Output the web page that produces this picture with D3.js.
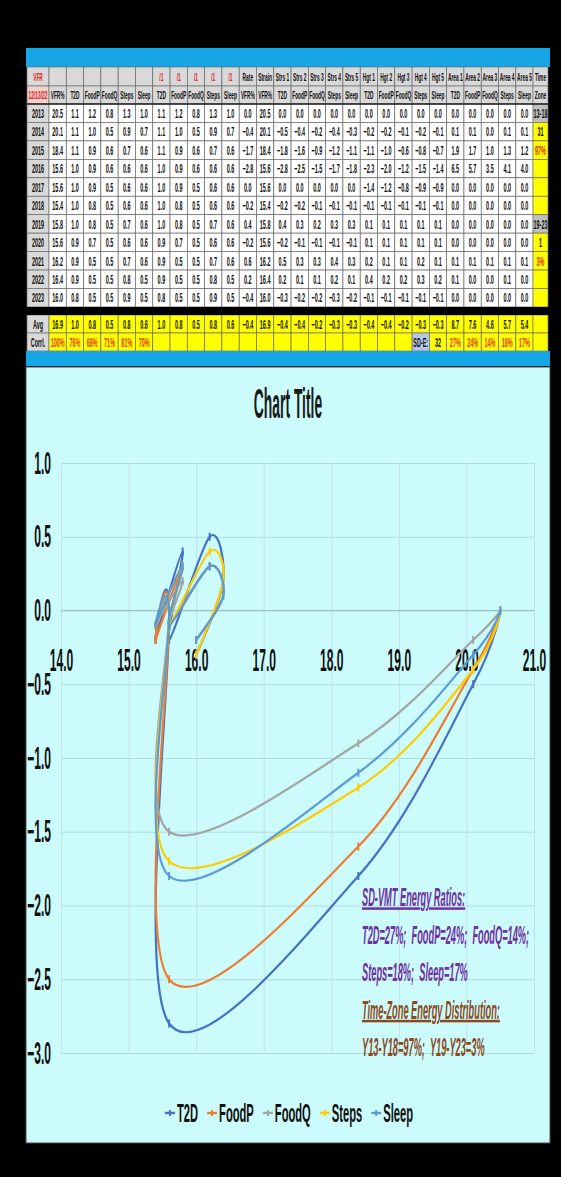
<!DOCTYPE html>
<html>
<head>
<meta charset="utf-8">
<script src="https://cdn.jsdelivr.net/npm/d3@7"></script>
<style>
  body { margin: 0; background: #000; }
  svg { display: block; }
</style>
</head>
<body>
<svg id="chart" width="561" height="1177"></svg>
<script>
// ---- data ----
const years = [2013, 2014, 2015, 2016, 2017, 2018, 2019, 2020, 2021, 2022, 2023];
const vfrPct = [20.5, 20.1, 18.4, 15.6, 15.6, 15.4, 15.8, 15.6, 16.2, 16.4, 16.0];
const seriesNames = ["T2D", "FoodP", "FoodQ", "Steps", "Sleep"];
const ratios = [
  [1.1, 1.2, 0.8, 1.3, 1.0], [1.1, 1.0, 0.5, 0.9, 0.7], [1.1, 0.9, 0.6, 0.7, 0.6],
  [1.0, 0.9, 0.6, 0.6, 0.6], [1.0, 0.9, 0.5, 0.6, 0.6], [1.0, 0.8, 0.5, 0.6, 0.6],
  [1.0, 0.8, 0.5, 0.7, 0.6], [0.9, 0.7, 0.5, 0.6, 0.6], [0.9, 0.5, 0.5, 0.7, 0.6],
  [0.9, 0.5, 0.5, 0.8, 0.5], [0.8, 0.5, 0.5, 0.9, 0.5]
];
const rate = [0.0, -0.4, -1.7, -2.8, 0.0, -0.2, 0.4, -0.2, 0.6, 0.2, -0.4];
const strain = [20.5, 20.1, 18.4, 15.6, 15.6, 15.4, 15.8, 15.6, 16.2, 16.4, 16.0];
const strs = [
  [0.0, 0.0, 0.0, 0.0, 0.0], [-0.5, -0.4, -0.2, -0.4, -0.3], [-1.8, -1.6, -0.9, -1.2, -1.1],
  [-2.8, -2.5, -1.5, -1.7, -1.8], [0.0, 0.0, 0.0, 0.0, 0.0], [-0.2, -0.2, -0.1, -0.1, -0.1],
  [0.4, 0.3, 0.2, 0.3, 0.3], [-0.2, -0.1, -0.1, -0.1, -0.1], [0.5, 0.3, 0.3, 0.4, 0.3],
  [0.2, 0.1, 0.1, 0.2, 0.1], [-0.3, -0.2, -0.2, -0.3, -0.2]
];
const hgt = [
  [0.0, 0.0, 0.0, 0.0, 0.0], [-0.2, -0.2, -0.1, -0.2, -0.1], [-1.1, -1.0, -0.6, -0.8, -0.7],
  [-2.3, -2.0, -1.2, -1.5, -1.4], [-1.4, -1.2, -0.8, -0.9, -0.9], [-0.1, -0.1, -0.1, -0.1, -0.1],
  [0.1, 0.1, 0.1, 0.1, 0.1], [0.1, 0.1, 0.1, 0.1, 0.1], [0.2, 0.1, 0.1, 0.2, 0.1],
  [0.4, 0.2, 0.2, 0.3, 0.2], [-0.1, -0.1, -0.1, -0.1, -0.1]
];
const area = [
  [0.0, 0.0, 0.0, 0.0, 0.0], [0.1, 0.1, 0.0, 0.1, 0.1], [1.9, 1.7, 1.0, 1.3, 1.2],
  [6.5, 5.7, 3.5, 4.1, 4.0], [0.0, 0.0, 0.0, 0.0, 0.0], [0.0, 0.0, 0.0, 0.0, 0.0],
  [0.0, 0.0, 0.0, 0.0, 0.0], [0.0, 0.0, 0.0, 0.0, 0.0], [0.1, 0.1, 0.1, 0.1, 0.1],
  [0.1, 0.0, 0.0, 0.1, 0.0], [0.0, 0.0, 0.0, 0.0, 0.0]
];
const timeZone = ["13-18", "31", "97%", "", "", "", "19-23", "1", "3%", "", ""];
const avgRow = [16.9, 1.0, 0.8, 0.5, 0.8, 0.6, 1.0, 0.8, 0.5, 0.8, 0.6, -0.4, 16.9,
  -0.4, -0.4, -0.2, -0.3, -0.3, -0.4, -0.4, -0.2, -0.3, -0.3, 8.7, 7.6, 4.6, 5.7, 5.4];
const corrl = ["100%", "76%", "68%", "71%", "81%", "70%"];
const sdE = "32";
const energyPct = ["27%", "24%", "14%", "18%", "17%"];
const xTicks = [14, 15, 16, 17, 18, 19, 20, 21];
const yTicks = [1.0, 0.5, 0.0, -0.5, -1.0, -1.5, -2.0, -2.5, -3.0];
const notes = [
  "SD-VMT Energy Ratios:",
  "T2D=27%;  FoodP=24%;  FoodQ=14%;",
  "Steps=18%;  Sleep=17%",
  "Time-Zone Energy Distribution:",
  "Y13-Y18=97%;  Y19-Y23=3%"
];

const colors = ["#4472c4", "#ed7d31", "#a5a5a5", "#ffcc00", "#5b9bd5"];
const FONT = "'Liberation Sans', Arial, sans-serif";
const fmt = d3.format(".1f");

const svg = d3.select("#chart");

// squeezed bold text, like the narrow spreadsheet font
function sq(g, x, y, str, o) {
  return g.append("text")
    .attr("transform", `translate(${x},${y}) scale(${o.sx},1)`)
    .attr("text-anchor", o.anchor || "middle")
    .attr("font-family", FONT)
    .attr("font-weight", "bold")
    .attr("font-style", o.italic ? "italic" : null)
    .attr("font-size", o.size)
    .attr("fill", o.fill || "#111")
    .style("white-space", "pre")
    .text(str);
}

// ---- top blue band ----
svg.append("rect").attr("x", 26).attr("y", 48).attr("width", 524).attr("height", 19).attr("fill", "#16a5e5");

// ---- table ----
const table = svg.append("g");
const cols = d3.range(30).map(c => c === 0 ? { x: 27, w: 22 }
  : c === 29 ? { x: 533, w: 15 } : { x: 49 + (c - 1) * 17.29, w: 17.29 });

const cells = [];
function addRow(y, h, texts, style) {
  texts.forEach((t, c) => cells.push(Object.assign({ c, y, h, t }, style(c, t))));
}

const blockHead = (a) => d3.range(1, 6).map(i => a + " " + i);
const hdr1 = ["VFR", "", "", "", "", "", ""].concat(d3.range(5).map(() => "/1"),
  ["Rate", "Strain"], blockHead("Strs"), blockHead("Hgt"), blockHead("Area"), ["Time"]);
const hdr2 = ["12/13/22", "VFR%"].concat(seriesNames, seriesNames, ["VFR%", "VFR%"],
  seriesNames, seriesNames, seriesNames, ["Zone"]);

addRow(67, 19, hdr1, (c) => ({ fill: "#d9d9d9", color: (c === 0 || (c >= 7 && c <= 11)) ? "#e02020" : "#111", size: 11.5 }));
addRow(86, 18, hdr2, (c) => ({ fill: c === 0 ? "#f2d0cc" : "#d9d9d9", color: c === 0 ? "#e02020" : "#111", size: 11.5 }));

const rowH = 18.45;
years.forEach((yr, i) => {
  const vals = [String(yr), fmt(vfrPct[i])]
    .concat(ratios[i].map(fmt), ratios[i].map(fmt), [fmt(rate[i]), fmt(strain[i])],
      strs[i].map(fmt), hgt[i].map(fmt), area[i].map(fmt), [timeZone[i]]);
  addRow(104 + i * rowH, rowH, vals, (c, t) => {
    if (c === 0) return { fill: "#d9d9d9", color: "#111", size: 13 };
    if (c === 29) {
      const grey = t.indexOf("-") > 0;
      return { fill: grey ? "#bfbfbf" : "#ffff00", color: t.endsWith("%") ? "#e0301e" : "#111", size: 13 };
    }
    return { fill: "#fff", color: "#111", size: 13 };
  });
});

const avgTexts = ["Avg"].concat(avgRow.map(fmt), [""]);
addRow(315, 18, avgTexts, (c) => ({ fill: c === 0 ? "#d9d9d9" : "#ffff00", color: "#111", size: 13 }));

const corrTexts = ["Corrl."].concat(corrl, d3.range(15).map(() => ""), ["SD-E:", sdE], energyPct, [""]);
addRow(333, 18, corrTexts, (c, t) => ({
  fill: c === 0 ? "#d9d9d9" : c === 22 ? "#b4c7e7" : "#ffff00",
  color: t.endsWith("%") ? "#e0401a" : "#111", size: 13
}));

table.selectAll("rect.cell").data(cells).join("rect")
  .attr("class", "cell")
  .attr("x", d => cols[d.c].x).attr("y", d => d.y)
  .attr("width", d => cols[d.c].w).attr("height", d => d.h)
  .attr("fill", d => d.fill).attr("stroke", "#6f6f6f").attr("stroke-width", 0.7);

cells.filter(d => d.t !== "").forEach(d => {
  sq(table, cols[d.c].x + cols[d.c].w / 2, d.y + d.h / 2 + d.size * 0.36, d.t,
    { size: d.size, sx: 0.42, fill: d.color });
});

// black separator before the summary rows
table.append("rect").attr("x", 27).attr("y", 307).attr("width", 521).attr("height", 8).attr("fill", "#000");

// thick line under header
table.append("line").attr("x1", 27).attr("x2", 548).attr("y1", 104).attr("y2", 104)
  .attr("stroke", "#222").attr("stroke-width", 1.5);

// ---- lower blue band ----
svg.append("rect").attr("x", 26).attr("y", 351).attr("width", 524).attr("height", 15).attr("fill", "#16a5e5");

// ---- chart ----
svg.append("rect").attr("x", 26).attr("y", 367).attr("width", 524).attr("height", 776)
  .attr("fill", "#ccfbfc").attr("stroke", "#4a4a4a").attr("stroke-width", 1);

const x = d3.scaleLinear().domain([14, 21]).range([61, 534]);
const y = d3.scaleLinear().domain([-3, 1]).range([1053, 463]);

// gridlines
svg.append("g").attr("transform", "translate(61,0)")
  .call(d3.axisLeft(y).tickValues(yTicks).tickSize(-(534 - 61)).tickFormat(""))
  .call(g => g.select(".domain").remove())
  .call(g => g.selectAll("line").attr("stroke", "#b3dadd").attr("stroke-width", 1));
svg.append("g").attr("transform", "translate(0,1053)")
  .call(d3.axisBottom(x).tickValues(xTicks).tickSize(-(1053 - 463)).tickFormat(""))
  .call(g => g.select(".domain").remove())
  .call(g => g.selectAll("line").attr("stroke", "#c0e2e5").attr("stroke-width", 1));

// horizontal axis crossing at 0
svg.append("line").attr("x1", x(14)).attr("x2", x(21)).attr("y1", y(0)).attr("y2", y(0))
  .attr("stroke", "#9dbfc5").attr("stroke-width", 1.2);

// y labels
const yLab = svg.append("g").attr("transform", "translate(61,0)")
  .call(d3.axisLeft(y).tickValues(yTicks).tickSize(0).tickFormat(fmt));
yLab.select(".domain").remove();
yLab.selectAll("text")
  .attr("font-family", FONT).attr("font-weight", "bold").attr("font-size", 31).attr("fill", "#111")
  .attr("x", 0).attr("dy", "0.33em")
  .attr("transform", "translate(-10,0) scale(0.39,1)");

// x labels next to the zero line
const xLab = svg.append("g").attr("transform", `translate(0,${y(0)})`)
  .call(d3.axisBottom(x).tickValues(xTicks).tickSize(0).tickPadding(0).tickFormat(fmt));
xLab.select(".domain").remove();
xLab.selectAll("text")
  .attr("font-family", FONT).attr("font-weight", "bold").attr("font-size", 31).attr("fill", "#111")
  .attr("y", 0).attr("dy", "0.71em")
  .attr("transform", "translate(0,38) scale(0.39,1)");

// title
sq(svg, 288, 418, "Chart Title", { size: 42, sx: 0.33, fill: "#1a1a1a" });

// series
const line = d3.line().x(d => x(d[0])).y(d => y(d[1])).curve(d3.curveCardinal.tension(0));
seriesNames.forEach((name, k) => {
  const pts = strain.map((s, i) => [s, strs[i][k]]);
  const g = svg.append("g");
  g.append("path").datum(pts).attr("d", line)
    .attr("fill", "none").attr("stroke", colors[k]).attr("stroke-width", 2.2)
    .attr("stroke-linejoin", "round").attr("stroke-linecap", "round");
  g.selectAll("line").data(pts).join("line")
    .attr("x1", d => x(d[0])).attr("x2", d => x(d[0]))
    .attr("y1", d => y(d[1]) - 4).attr("y2", d => y(d[1]) + 4)
    .attr("stroke", colors[k]).attr("stroke-width", 2);
});

// notes
notes.forEach((t, i) => {
  const brown = i >= 3;
  sq(svg, 362, 906 + i * 37.5, t, {
    size: 25, sx: 0.37, italic: true, anchor: "start",
    fill: brown ? "#8a4a1c" : "#7030a0"
  }).attr("text-decoration", (i === 0 || i === 3) ? "underline" : null);
});

// legend
const leg = svg.append("g");
let lx = 0;
seriesNames.forEach((name, k) => {
  const gi = leg.append("g").attr("transform", `translate(${lx},0)`);
  gi.append("line").attr("x1", 0).attr("x2", 10).attr("y1", 0).attr("y2", 0)
    .attr("stroke", colors[k]).attr("stroke-width", 2.4);
  gi.append("line").attr("x1", 5).attr("x2", 5).attr("y1", -3).attr("y2", 3)
    .attr("stroke", colors[k]).attr("stroke-width", 2);
  const t = sq(gi, 12, 9, name, { size: 26, sx: 0.43, anchor: "start", fill: "#111" });
  const w = t.node().getComputedTextLength() * 0.43;
  lx += 12 + w + 9;
});
leg.attr("transform", `translate(${289 - (lx - 9) / 2},1113)`);
</script>
</body>
</html>
